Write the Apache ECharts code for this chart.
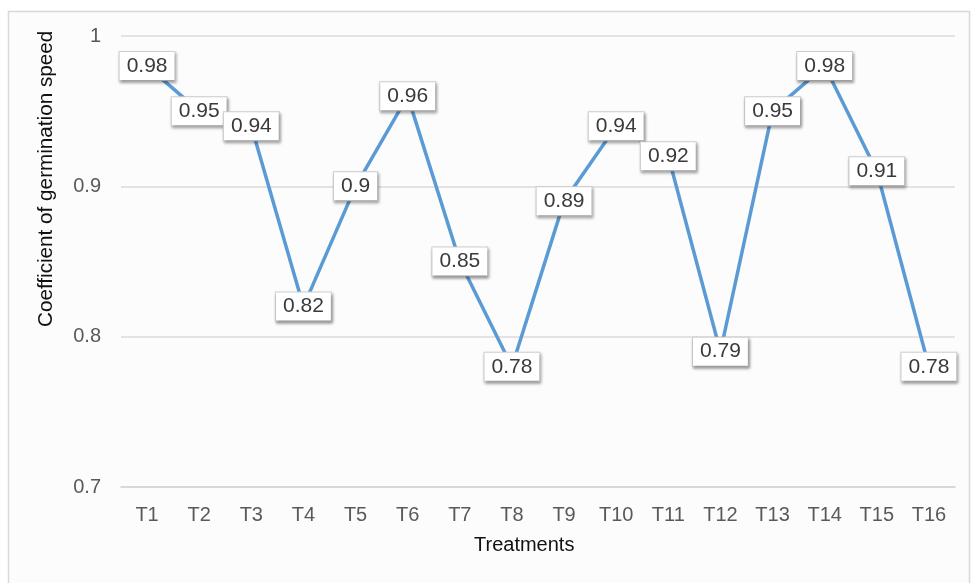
<!DOCTYPE html>
<html>
<head>
<meta charset="utf-8">
<script src="https://cdn.jsdelivr.net/npm/echarts@6/dist/echarts.min.js"></script>
<style>
html, body { margin: 0; padding: 0; background: #ffffff; }
#chart { width: 974px; height: 583px; }
</style>
</head>
<body>
<div id="chart"></div>
<script>
var treatments = ['T1', 'T2', 'T3', 'T4', 'T5', 'T6', 'T7', 'T8', 'T9', 'T10', 'T11', 'T12', 'T13', 'T14', 'T15', 'T16'];
var speedValues = [0.98, 0.95, 0.94, 0.82, 0.9, 0.96, 0.85, 0.78, 0.89, 0.94, 0.92, 0.79, 0.95, 0.98, 0.91, 0.78];
var yTicks = [0.7, 0.8, 0.9, 1];

var myChart = echarts.init(document.getElementById('chart'));
var option = {
    animation: false,
    backgroundColor: '#ffffff',
    textStyle: { fontFamily: 'Liberation Sans, Arial, sans-serif' },
    graphic: [
        {
            type: 'rect',
            shape: { x: 8.5, y: 11.5, width: 961, height: 600 },
            style: { fill: '#fcfcfc', stroke: '#dcd8d6', lineWidth: 1.5 },
            z: -10
        },
        {
            type: 'text',
            left: 474,
            top: 535,
            style: { text: 'Treatments', fill: '#111', fontSize: 20, fontFamily: 'Liberation Sans, Arial, sans-serif' }
        },
        {
            type: 'text',
            x: 36,
            y: 327,
            rotation: Math.PI / 2,
            style: { text: 'Coefficient of germination speed', fill: '#111', fontSize: 20.7, fontFamily: 'Liberation Sans, Arial, sans-serif' }
        }
    ],
    grid: { left: 121, right: 19, top: 36, bottom: 96 },
    xAxis: {
        type: 'category',
        data: treatments,
        boundaryGap: true,
        axisLine: { show: true, lineStyle: { color: '#d9d4d2', width: 1.5 } },
        axisTick: { show: false },
        axisLabel: { color: '#595959', fontSize: 20, margin: 18 }
    },
    yAxis: {
        type: 'value',
        min: yTicks[0],
        max: yTicks[yTicks.length - 1],
        interval: 0.1,
        axisLine: { show: false },
        axisTick: { show: false },
        axisLabel: {
            color: '#595959',
            fontSize: 20,
            margin: 20,
            formatter: function (v) { return String(Math.round(v * 10) / 10); }
        },
        splitLine: { lineStyle: { color: '#dedad8', width: 1.5 } }
    },
    series: [
        {
            type: 'line',
            data: speedValues,
            symbol: 'circle',
            symbolSize: 2,
            showSymbol: true,
            itemStyle: { color: 'rgba(91,155,213,0)', borderWidth: 0 },
            lineStyle: { color: '#5b9bd5', width: 3.5 },
            label: {
                show: true,
                position: 'inside',
                color: '#3a3a3a',
                fontSize: 21,
                backgroundColor: '#ffffff',
                borderColor: '#d0d0d0',
                borderWidth: 1,
                padding: [4, 7, 3, 7],
                shadowColor: 'rgba(0,0,0,0.35)',
                shadowBlur: 3,
                shadowOffsetX: 1,
                shadowOffsetY: 2
            },
            labelLayout: { hideOverlap: false }
        }
    ]
};
myChart.setOption(option);
window.addEventListener('resize', function () { myChart.resize(); });
</script>
</body>
</html>
